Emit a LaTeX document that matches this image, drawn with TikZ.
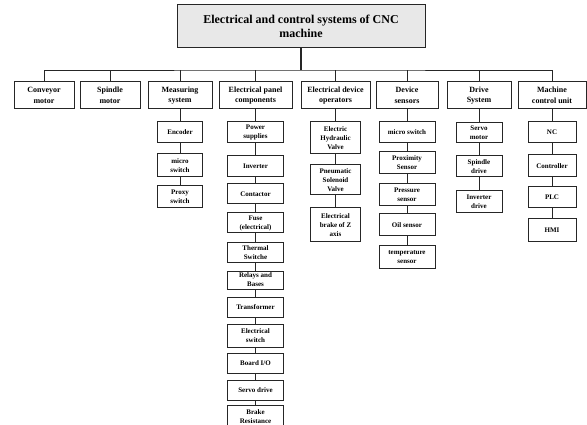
\documentclass[tikz,border=0pt]{standalone}
\usepackage{fontspec}
\setmainfont{Liberation Serif}
\usetikzlibrary{calc}

\begin{document}
\begin{tikzpicture}[x=1pt,y=-1pt,
		box/.style={draw=black!85,line width=1pt,fill=white,align=center,inner sep=0pt},
		topbox/.style={box,fill=gray!18,minimum width=248,minimum height=43,
			font=\fontsize{12}{14.5}\selectfont\bfseries},
		mainbox/.style={box,minimum height=27,font=\fontsize{8}{10.5}\selectfont\bfseries},
		subbox/.style={box,font=\fontsize{7}{9}\selectfont\bfseries},
		link/.style={draw=black!85,line width=0.8pt}]
	\useasboundingbox (0,0) rectangle (587,425);

	\node[topbox] (title) at (301,26.5) {Electrical and control systems of CNC\\machine};
	\coordinate (bus) at (301,70);

	% first level
	\node[mainbox,minimum width=60] (conv) at (44,95.5) {Conveyor\\motor};
	\node[mainbox,minimum width=60] (spin) at (110,95.5) {Spindle\\motor};
	\node[mainbox,minimum width=64] (meas) at (180,95.5) {Measuring\\system};
	\node[mainbox,minimum width=73] (epc) at (255.5,95.5) {Electrical panel\\components};
	\node[mainbox,minimum width=69] (edo) at (335.5,95.5) {Electrical device\\operators};
	\node[mainbox,minimum width=62] (dsen) at (407,95.5) {Device\\sensors};
	\node[mainbox,minimum width=64] (drv) at (479,95.5) {Drive\\System};
	\node[mainbox,minimum width=68] (mcu) at (552,95.5) {Machine\\control unit};

	% measuring system
	\node[subbox,minimum width=45,minimum height=21] (enc) at (180,132.5) {Encoder};
	\node[subbox,minimum width=45,minimum height=23] (msw) at (180,165.5) {micro\\switch};
	\node[subbox,minimum width=45,minimum height=22] (prx) at (180,197) {Proxy\\switch};

	% electrical panel components
	\node[subbox,minimum width=56,minimum height=21] (psup) at (255.5,132.5) {Power\\supplies};
	\node[subbox,minimum width=56,minimum height=21] (inv) at (255.5,166.5) {Inverter};
	\node[subbox,minimum width=56,minimum height=20] (cont) at (255.5,194) {Contactor};
	\node[subbox,minimum width=56,minimum height=20] (fuse) at (255.5,223) {Fuse\\(electrical)};
	\node[subbox,minimum width=56,minimum height=19] (therm) at (255.5,252.5) {Thermal\\Switche};
	\node[subbox,minimum width=56,minimum height=18] (relay) at (255.5,280) {Relays and\\Bases};
	\node[subbox,minimum width=56,minimum height=20] (trans) at (255.5,307) {Transformer};
	\node[subbox,minimum width=56,minimum height=23] (esw) at (255.5,335.5) {Electrical\\switch};
	\node[subbox,minimum width=56,minimum height=20] (bio) at (255.5,363) {Board I/O};
	\node[subbox,minimum width=56,minimum height=20] (servd) at (255.5,390) {Servo drive};
	\node[subbox,minimum width=56,minimum height=23] (brake) at (255.5,416.5) {Brake\\Resistance};

	% electrical device operators
	\node[subbox,minimum width=50,minimum height=32] (ehv) at (335.5,138) {Electric\\Hydraulic\\Valve};
	\node[subbox,minimum width=50,minimum height=30] (psv) at (335.5,180) {Pneumatic\\Solenoid\\Valve};
	\node[subbox,minimum width=50,minimum height=34] (ebz) at (335.5,225) {Electrical\\brake of Z\\axis};

	% device sensors
	\node[subbox,minimum width=56,minimum height=21] (dmsw) at (407,132.5) {micro switch};
	\node[subbox,minimum width=56,minimum height=22] (prox) at (407,163) {Proximity\\Sensor};
	\node[subbox,minimum width=56,minimum height=22] (pres) at (407,195) {Pressure\\sensor};
	\node[subbox,minimum width=56,minimum height=22] (oil) at (407,225) {Oil sensor};
	\node[subbox,minimum width=56,minimum height=22] (temp) at (407,257) {temperature\\sensor};

	% drive system
	\node[subbox,minimum width=46,minimum height=20] (srvm) at (479,133) {Servo\\motor};
	\node[subbox,minimum width=46,minimum height=21] (spdr) at (479,166.5) {Spindle\\drive};
	\node[subbox,minimum width=46,minimum height=22] (invd) at (479,202) {Inverter\\drive};

	% machine control unit
	\node[subbox,minimum width=48,minimum height=21] (nc) at (552,132.5) {NC};
	\node[subbox,minimum width=48,minimum height=22] (ctrl) at (552,166) {Controller};
	\node[subbox,minimum width=48,minimum height=21] (plc) at (552,197.5) {PLC};
	\node[subbox,minimum width=48,minimum height=23] (hmi) at (552,230.5) {HMI};

	% tree lines
	\draw[link,line width=1.2pt] (title.south) -- (bus);
	\draw[link] (conv.north) |- (bus) -| (mcu.north);
	\foreach \n in {spin,meas,epc,edo,dsen,drv}
		\draw[link] (\n.north) -- (\n.north |- bus);
	\foreach \a/\b in {meas/enc,enc/msw,msw/prx,
			epc/psup,psup/inv,inv/cont,cont/fuse,fuse/therm,therm/relay,relay/trans,
			trans/esw,esw/bio,bio/servd,servd/brake,
			edo/ehv,ehv/psv,psv/ebz,
			dsen/dmsw,dmsw/prox,prox/pres,pres/oil,oil/temp,
			drv/srvm,srvm/spdr,spdr/invd,
			mcu/nc,nc/ctrl,ctrl/plc,plc/hmi}
		\draw[link] (\a.south) -- (\b.north);
\end{tikzpicture}
\end{document}
